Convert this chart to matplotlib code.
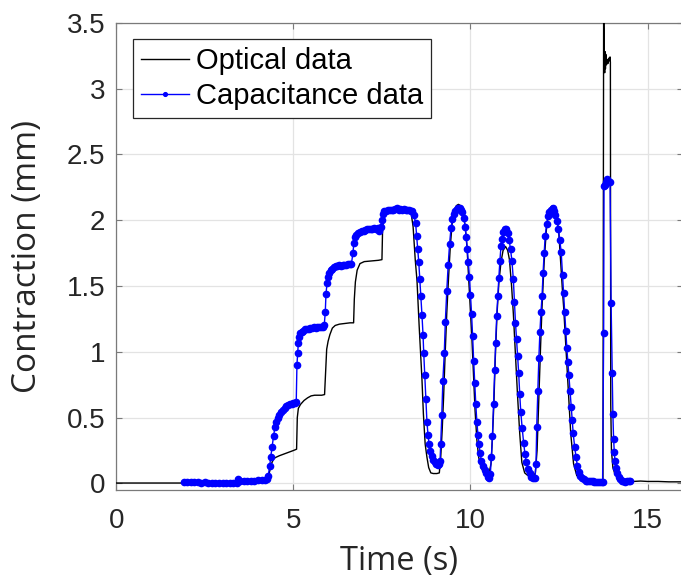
import numpy as np
import matplotlib.pyplot as plt
from matplotlib.ticker import FuncFormatter

# Optical data (black line)
opt_t = [0.0, 1.0, 2.0, 3.0, 4.0, 4.27, 4.32, 4.38, 4.45, 4.52, 4.60, 4.70, 4.80, 4.90, 5.00, 5.09,
         5.11, 5.14, 5.20, 5.30, 5.40, 5.50, 5.60, 5.70, 5.80, 5.88,
         5.91, 5.94, 5.98, 6.03, 6.10, 6.18, 6.30, 6.45, 6.60, 6.70,
         6.72, 6.75, 6.80, 6.88, 7.00, 7.20, 7.40, 7.50,
         7.52, 7.56, 7.64, 7.80, 8.00, 8.20, 8.32, 8.38, 8.44, 8.49, 8.55, 8.60, 8.63, 8.67, 8.72,
         8.77, 8.82, 8.88, 8.95, 9.05, 9.12, 9.16, 9.20, 9.24, 9.28, 9.33, 9.38, 9.43, 9.48, 9.53,
         9.60, 9.66, 9.72, 9.80, 9.85, 9.90, 9.95, 10.00, 10.04, 10.09, 10.13, 10.18, 10.23, 10.30,
         10.38, 10.45, 10.53, 10.58, 10.62, 10.66, 10.70, 10.75, 10.80, 10.86, 10.92, 10.99, 11.05,
         11.10, 11.16, 11.21, 11.27, 11.33, 11.39, 11.45, 11.53, 11.64, 11.75, 11.83, 11.88, 11.93,
         11.98, 12.02, 12.08, 12.14, 12.20, 12.27, 12.32, 12.38, 12.44, 12.49, 12.55, 12.60, 12.63,
         12.70, 12.77, 12.83, 12.91, 13.00, 13.10, 13.30, 13.50, 13.74,
         13.76, 13.78, 13.79, 13.80, 13.81, 13.82, 13.84, 13.86, 13.88, 13.90, 13.92, 13.94, 13.95,
         13.96, 13.98, 14.02, 14.08, 14.15, 14.25, 14.40, 14.60, 14.80, 15.00, 15.30, 15.60, 16.0]
opt_y = [0.003, 0.003, 0.003, 0.003, 0.005, 0.01, 0.08, 0.15, 0.19, 0.20, 0.21, 0.22, 0.23, 0.24, 0.25, 0.26,
         0.50, 0.57, 0.60, 0.63, 0.65, 0.665, 0.67, 0.67, 0.67, 0.675,
         0.85, 1.02, 1.08, 1.13, 1.18, 1.20, 1.21, 1.215, 1.22, 1.22,
         1.40, 1.53, 1.62, 1.67, 1.685, 1.69, 1.695, 1.70,
         1.95, 2.02, 2.055, 2.065, 2.07, 2.07, 2.06, 1.95, 1.70, 1.54, 1.20, 0.95, 0.79, 0.53, 0.30,
         0.20, 0.12, 0.08, 0.075, 0.075, 0.08, 0.20, 0.40, 0.65, 0.95, 1.29, 1.56, 1.80, 1.97, 2.06,
         2.11, 2.12, 2.11, 2.05, 1.95, 1.80, 1.55, 1.30, 1.10, 0.80, 0.55, 0.33, 0.20, 0.12,
         0.08, 0.075, 0.085, 0.15, 0.35, 0.60, 0.95, 1.29, 1.52, 1.68, 1.77, 1.80, 1.77,
         1.70, 1.50, 1.29, 0.98, 0.66, 0.38, 0.16, 0.08, 0.055, 0.06, 0.075, 0.25, 0.66,
         1.05, 1.34, 1.68, 1.92, 2.05, 2.10, 2.11, 2.08, 2.01, 1.92, 1.66, 1.45, 1.34,
         1.00, 0.66, 0.38, 0.15, 0.06, 0.04, 0.025, 0.02, 0.02,
         3.70, 3.15, 3.12, 3.28, 3.15, 3.26, 3.18, 3.22, 3.19, 3.23, 3.21, 3.24, 3.20,
         0.60, 0.25, 0.12, 0.07, 0.05, 0.03, 0.02, 0.015, 0.018, 0.015, 0.015, 0.012, 0.012]

# Capacitance data (blue dots)
cap_t = [1.90, 2.00, 2.10, 2.20, 2.30, 2.40, 2.50, 2.60, 2.70, 2.80, 2.90, 3.00, 3.10, 3.20, 3.30,
         3.40, 3.45, 3.50, 3.60, 3.70, 3.80, 3.90, 4.00, 4.10, 4.20, 4.25,
         4.29, 4.33, 4.36, 4.40, 4.44, 4.48, 4.52, 4.56, 4.60, 4.65, 4.70, 4.75, 4.80, 4.85, 4.90,
         4.95, 5.00, 5.05, 5.08,
         5.10, 5.12, 5.14, 5.17, 5.20, 5.24, 5.28, 5.33, 5.38, 5.43, 5.48, 5.53, 5.58, 5.63, 5.68,
         5.73, 5.78, 5.83, 5.87,
         5.90, 5.92, 5.95, 5.98, 6.01, 6.05, 6.09, 6.14, 6.19, 6.24, 6.29, 6.34, 6.39, 6.44, 6.49,
         6.54, 6.59, 6.64,
         6.68, 6.71, 6.74, 6.78, 6.83, 6.88, 6.93, 6.98, 7.03, 7.08, 7.13, 7.18, 7.23, 7.28, 7.33,
         7.38, 7.43, 7.47,
         7.50, 7.53, 7.57, 7.62, 7.67, 7.72, 7.77, 7.82, 7.87, 7.92, 7.97, 8.02, 8.07, 8.12, 8.17,
         8.22, 8.27, 8.32, 8.36, 8.40,
         8.45, 8.48, 8.51, 8.54, 8.57, 8.60, 8.63, 8.66, 8.68, 8.71, 8.74, 8.77, 8.80, 8.83, 8.87,
         8.91, 8.95, 8.99, 9.03, 9.07, 9.11, 9.14,
         9.16, 9.19, 9.22, 9.26, 9.29, 9.33, 9.37, 9.41, 9.45, 9.49, 9.53, 9.57, 9.61, 9.65, 9.69,
         9.73, 9.77, 9.81, 9.85, 9.88, 9.91, 9.94, 9.97, 10.00, 10.03, 10.06, 10.09, 10.12, 10.15,
         10.18, 10.21, 10.24, 10.27, 10.31, 10.35, 10.40, 10.45, 10.50, 10.53, 10.56,
         10.59, 10.62, 10.65, 10.68, 10.71, 10.74, 10.77, 10.80, 10.83, 10.86, 10.89, 10.93, 10.97,
         11.01, 11.05, 11.09, 11.13, 11.17, 11.21, 11.24, 11.27, 11.30, 11.33, 11.36, 11.39, 11.42,
         11.46, 11.50, 11.54, 11.58, 11.62, 11.67, 11.72, 11.77, 11.82, 11.85,
         11.87, 11.90, 11.93, 11.96, 11.99, 12.02, 12.05, 12.08, 12.11, 12.15, 12.19, 12.23, 12.28,
         12.32, 12.36, 12.40, 12.44, 12.48, 12.52, 12.56, 12.60, 12.63, 12.66, 12.69, 12.72, 12.75,
         12.78, 12.81, 12.84, 12.87, 12.90, 12.94, 12.98, 13.02, 13.06, 13.10, 13.15, 13.20, 13.25,
         13.30, 13.35, 13.40, 13.45, 13.50, 13.55, 13.60, 13.65, 13.70, 13.73,
         13.76, 13.77, 13.80, 13.83, 13.85, 13.88, 13.91, 13.94, 13.97, 14.00, 14.02, 14.04, 14.06,
         14.08, 14.11, 14.14, 14.18, 14.22, 14.27, 14.32, 14.37, 14.42, 14.47, 14.50]
cap_y = [0.012, 0.010, 0.012, 0.008, 0.010, 0.006, 0.008, 0.004, 0.002, 0.004, 0.000, 0.002, 0.000,
         0.004, 0.002, 0.000, 0.030, 0.015, 0.018, 0.020, 0.022, 0.022, 0.025, 0.025, 0.028, 0.030,
         0.06, 0.13, 0.20, 0.28, 0.36, 0.43, 0.47, 0.50, 0.52, 0.54, 0.56, 0.57, 0.585, 0.595, 0.60,
         0.605, 0.61, 0.61, 0.615,
         0.90, 0.99, 1.07, 1.11, 1.14, 1.15, 1.16, 1.17, 1.17, 1.175, 1.18, 1.18, 1.185, 1.18, 1.185,
         1.19, 1.19, 1.19, 1.20,
         1.30, 1.44, 1.52, 1.57, 1.60, 1.62, 1.63, 1.645, 1.65, 1.655, 1.66, 1.655, 1.66, 1.66, 1.66,
         1.665, 1.665, 1.67,
         1.75, 1.83, 1.87, 1.89, 1.90, 1.91, 1.915, 1.92, 1.925, 1.93, 1.93, 1.93, 1.935, 1.94, 1.93,
         1.94, 1.92, 1.95,
         2.00, 2.05, 2.07, 2.07, 2.075, 2.08, 2.075, 2.08, 2.085, 2.09, 2.08, 2.085, 2.08, 2.085, 2.08,
         2.075, 2.08, 2.07, 2.07, 2.04,
         1.98, 1.88, 1.78, 1.68, 1.55, 1.42, 1.28, 1.13, 0.99, 0.82, 0.64, 0.47, 0.37, 0.30, 0.25,
         0.21, 0.18, 0.16, 0.145, 0.14, 0.15, 0.17,
         0.30, 0.52, 0.78, 0.99, 1.23, 1.46, 1.66, 1.82, 1.94, 2.01, 2.05, 2.07, 2.085, 2.09, 2.09,
         2.08, 2.06, 2.02, 1.95, 1.87, 1.78, 1.68, 1.57, 1.43, 1.29, 1.12, 0.93, 0.76, 0.60,
         0.47, 0.37, 0.30, 0.23, 0.17, 0.13, 0.10, 0.08, 0.05, 0.04, 0.07,
         0.20, 0.36, 0.60, 0.86, 1.07, 1.27, 1.42, 1.56, 1.69, 1.80, 1.86, 1.91, 1.935,
         1.93, 1.90, 1.85, 1.78, 1.69, 1.55, 1.38, 1.22, 1.10, 0.97, 0.84, 0.68, 0.54,
         0.42, 0.31, 0.22, 0.16, 0.11, 0.08, 0.05, 0.04, 0.04, 0.15,
         0.43, 0.70, 0.95, 1.15, 1.30, 1.42, 1.60, 1.75, 1.88, 1.97, 2.03, 2.06, 2.08,
         2.09, 2.07, 2.04, 1.99, 1.93, 1.85, 1.76, 1.58, 1.45, 1.30, 1.16, 1.03, 0.92,
         0.82, 0.70, 0.58, 0.48, 0.38, 0.28, 0.20, 0.13, 0.09, 0.06, 0.04, 0.03, 0.02,
         0.02, 0.015, 0.015, 0.015, 0.012, 0.012, 0.012, 0.01, 0.01, 0.01,
         1.14, 2.26, 2.27, 2.29, 2.31, 2.30, 2.29, 2.29, 1.37, 0.84, 0.53, 0.34, 0.24,
         0.17, 0.12, 0.08, 0.05, 0.03, 0.02, 0.015, 0.01, 0.015, 0.02, 0.02]

x_ticks = [0, 5, 10, 15]
y_ticks = [0, 0.5, 1, 1.5, 2, 2.5, 3, 3.5]

txt = '#262626'
tick_font = 'Liberation Sans'
label_font = 'Open Sans'

fig = plt.figure(figsize=(6.81, 5.78), dpi=100)
ax = fig.add_axes([116.3 / 681, 1 - 490 / 578, 566.7 / 681, 467.3 / 578])

ax.plot(opt_t, opt_y, color='black', lw=1.0, label='Optical data', zorder=3)
ax.plot(cap_t, cap_y, color='blue', lw=1.0, marker='o', ms=4.5,
        label='Capacitance data', zorder=4)

ax.set_xlim(0, 16)
ax.set_ylim(-0.05, 3.5)
ax.set_xticks(x_ticks)
ax.set_yticks(y_ticks)
ax.yaxis.set_major_formatter(FuncFormatter(lambda v, p: '%g' % v))
ax.xaxis.set_major_formatter(FuncFormatter(lambda v, p: '%g' % v))

ax.grid(True, color='#e3e3e3', lw=0.9)
ax.set_axisbelow(True)
for s in ax.spines.values():
    s.set_color('#7a7a7a')
    s.set_linewidth(0.9)

ax.tick_params(direction='in', length=4, width=0.8, color='#7a7a7a',
               top=True, right=True, labelcolor=txt)
ax.tick_params(axis='x', pad=13)
ax.tick_params(axis='y', pad=8)
for lbl in ax.get_xticklabels() + ax.get_yticklabels():
    lbl.set_fontfamily(tick_font)
    lbl.set_fontsize(20)

ax.set_xlabel('Time (s)', fontsize=23.5, family=label_font, color=txt)
ax.set_ylabel('Contraction (mm)', fontsize=24, family=label_font, color=txt)
ax.xaxis.set_label_coords(0.498, -0.117)
ax.yaxis.set_label_coords(-0.128, 0.5)

leg = ax.legend(loc='upper left', bbox_to_anchor=(0.0295, 0.965), borderaxespad=0,
                fancybox=False, edgecolor='#262626', framealpha=1,
                prop={'family': tick_font, 'size': 21},
                handlelength=1.65, handletextpad=0.25, labelspacing=0.25,
                borderpad=0.27, numpoints=1, markerscale=0.6)
leg.get_frame().set_linewidth(0.9)

fig.savefig('out.png', dpi=100, facecolor='white')
